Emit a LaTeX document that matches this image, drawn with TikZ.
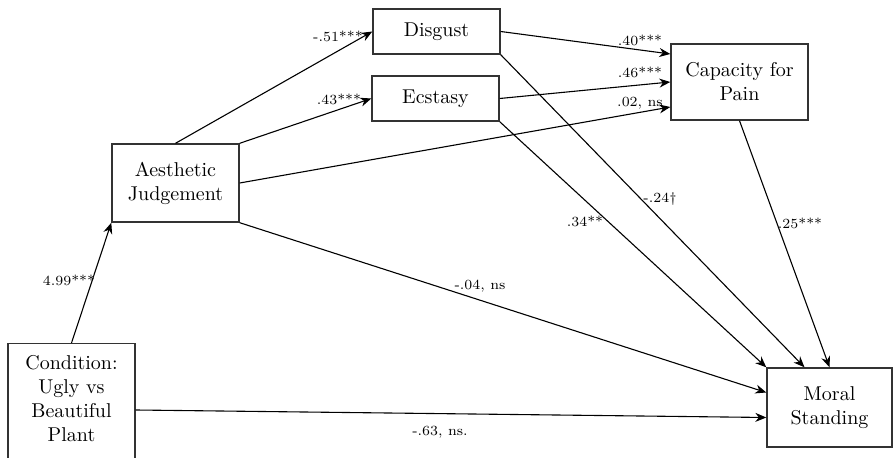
\documentclass[tikz,border=0pt]{standalone}
\usepackage{tikz}
\usetikzlibrary{arrows.meta,calc}
\tikzset{
  var/.style={
    rectangle, draw=black!80, line width=0.7pt, fill=white,
    inner sep=2pt, align=center, font=\normalsize
  },
  coef/.style={font=\scriptsize, inner sep=1pt},
  arrow/.style={-{Stealth[length=5.5pt,width=4.5pt]}, line width=0.55pt},
}

\begin{document}
\begin{tikzpicture}[x=0.5pt, y=-0.5pt]
  \useasboundingbox (0,0) rectangle (893,458);

  % Variables (condition box runs off the bottom edge)
  \node[var, anchor=north, inner ysep=6pt, text depth=70pt, minimum width=63.5pt]
    (cond) at (71.5,343) {Condition:\\Ugly vs\\Beautiful\\Plant};
  \node[var, minimum width=63.5pt, minimum height=39pt] (aesth) at (175.5,183)
    {Aesthetic\\Judgement};
  \node[var, minimum width=63.5pt, minimum height=22.5pt] (disgust) at (436.5,31.5)
    {Disgust};
  \node[var, minimum width=63.5pt, minimum height=22.5pt] (ecstasy) at (435.5,98.5)
    {Ecstasy};
  \node[var, minimum width=68.5pt, minimum height=38pt] (cap) at (739.5,82)
    {Capacity for\\Pain};
  \node[var, minimum width=62.5pt, minimum height=39.5pt] (moral) at (829.5,407.5)
    {Moral\\Standing};

  % Paths into aesthetic judgement and the emotions
  \draw[arrow] (cond.north) -- (aesth.south west);
  \draw[arrow] (aesth.north) -- (disgust.west);
  \draw[arrow] (aesth.north east) -- (ecstasy.west);

  % Paths into capacity for pain
  \draw[arrow] (disgust.east) -- ($(cap.west)+(0,-28)$);
  \draw[arrow] (ecstasy.east) -- (cap.west);
  \draw[arrow] (aesth.east) -- ($(cap.west)+(0,25)$);

  % Paths into moral standing
  \draw[arrow] (disgust.south east) -- ($(moral.north)+(-25,0)$);
  \draw[arrow] (ecstasy.south east) -- (moral.north west);
  \draw[arrow] (cap.south) -- (moral.north);
  \draw[arrow] (aesth.south east) -- ($(moral.west)+(0,-15)$);
  \draw[arrow] ($(cond.north east)+(0,67)$) -- ($(moral.west)+(0,10)$);

  % Coefficients
  \node[coef] (c499) at (69,280) {4.99***};
  \node[coef] (c51) at (338,36) {-.51***};
  \node[coef] (c43) at (339,99) {.43***};
  \node[coef] (c40) at (640,40) {.40***};
  \node[coef] (c46) at (640,72) {.46***};
  \node[coef] (c02) at (640,103) {.02, ns};
  \node[coef] (c24) at (660,199) {-.24\textdagger};
  \node[coef] (c34) at (585,221) {.34**};
  \node[coef] (c25) at (800,223) {.25***};
  \node[coef] (c04) at (480,286) {-.04, ns};
  \node[coef] (c63) at (440,432) {-.63, ns.};
\end{tikzpicture}
\end{document}
